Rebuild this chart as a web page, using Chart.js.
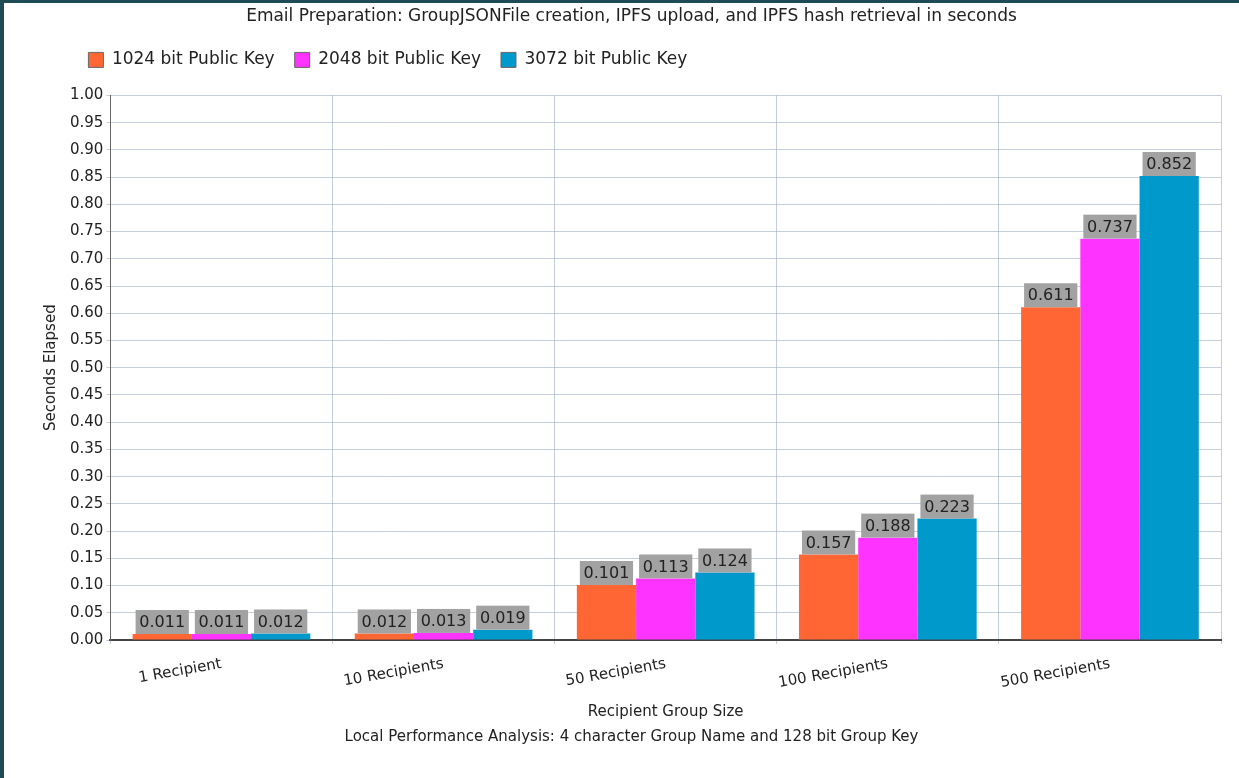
<!DOCTYPE html>
<html>
<head>
<meta charset="utf-8">
<script src="https://cdn.jsdelivr.net/npm/chart.js@4.4.1/dist/chart.umd.min.js"></script>
<style>
    html, body { margin: 0; padding: 0; background: #fff; }
    body { width: 1235px; height: 775px; border-left: 4px solid #1e4b55; border-top: 3px solid #1e4b55; }
    #wrap { width: 1235px; height: 775px; }
</style>
</head>
<body>
<div id="wrap"><canvas id="prepChart"></canvas></div>
<script>
const groupSizes = ['1 Recipient', '10 Recipients', '50 Recipients', '100 Recipients', '500 Recipients'];
const key1024 = [0.011, 0.012, 0.101, 0.157, 0.611];
const key2048 = [0.011, 0.013, 0.113, 0.188, 0.737];
const key3072 = [0.012, 0.019, 0.124, 0.223, 0.852];
const keyLabels = ['1024 bit Public Key', '2048 bit Public Key', '3072 bit Public Key'];

const fontFamily = '"DejaVu Sans", sans-serif';
const textColor = '#222';
const gridColor = 'rgba(150,165,190,0.55)';

// grey value boxes sitting on top of each bar
const valueBoxes = {
    id: 'valueBoxes',
    afterDatasetsDraw(chart) {
        const { ctx } = chart;
        ctx.save();
        ctx.font = '16px ' + fontFamily;
        ctx.textAlign = 'center';
        ctx.textBaseline = 'middle';
        chart.data.datasets.forEach((ds, i) => {
            chart.getDatasetMeta(i).data.forEach((bar, j) => {
                const w = bar.width - 6;
                ctx.fillStyle = '#a2a2a2';
                ctx.fillRect(bar.x - w / 2, bar.y - 24, w, 24);
                ctx.fillStyle = textColor;
                ctx.fillText(ds.data[j].toFixed(3), bar.x, bar.y - 11);
            });
        });
        ctx.restore();
    }
};

// legend sits left-aligned near the plot, with extra room below it
const legendShift = {
    id: 'legendShift',
    beforeLayout(chart) {
        const lg = chart.legend;
        if (lg && !lg._padded) {
            const fit = lg.fit;
            lg.fit = function () { fit.call(this); this.height += 17; };
            lg._padded = true;
        }
    },
    afterLayout(chart) {
        const lg = chart.legend;
        const dx = chart.chartArea.left - 42 - lg.left;
        lg.left += dx;
        lg.right += dx;
    }
};

const ctx = document.getElementById('prepChart');
new Chart(ctx, {
    type: 'bar',
    data: {
        labels: groupSizes,
        datasets: [
            { label: keyLabels[0], data: key1024, backgroundColor: '#ff6633' },
            { label: keyLabels[1], data: key2048, backgroundColor: '#ff33ff' },
            { label: keyLabels[2], data: key3072, backgroundColor: '#0099cc' },
        ]
    },
    options: {
        responsive: true,
        maintainAspectRatio: false,
        animation: false,
        datasets: { bar: { barPercentage: 1, categoryPercentage: 0.8 } },
        layout: { padding: { left: 38, right: 18, top: 2, bottom: 32 } },
        plugins: {
            title: {
                display: true,
                text: 'Email Preparation: GroupJSONFile creation, IPFS upload, and IPFS hash retrieval in seconds',
                color: textColor,
                font: { family: fontFamily, size: 17, weight: 'normal' },
                padding: { top: 1, bottom: 5 }
            },
            subtitle: {
                display: true,
                position: 'bottom',
                text: 'Local Performance Analysis: 4 character Group Name and 128 bit Group Key',
                color: textColor,
                font: { family: fontFamily, size: 15 },
                padding: { top: 7, bottom: 0 }
            },
            legend: {
                align: 'start',
                labels: {
                    color: textColor,
                    boxWidth: 15,
                    boxHeight: 15,
                    padding: 20,
                    font: { family: fontFamily, size: 17 },
                    generateLabels: chart => Chart.defaults.plugins.legend.labels.generateLabels(chart)
                        .map(item => ({ ...item, lineWidth: 1, strokeStyle: '#666' }))
                }
            },
            tooltip: { enabled: false }
        },
        scales: {
            x: {
                grid: { color: gridColor, tickLength: 4 },
                border: { color: '#444', width: 2 },
                ticks: {
                    color: textColor,
                    maxRotation: 10,
                    minRotation: 10,
                    padding: 11,
                    font: { family: fontFamily, size: 15 }
                },
                title: {
                    display: true,
                    text: 'Recipient Group Size',
                    color: textColor,
                    font: { family: fontFamily, size: 15 },
                    padding: { top: 0, bottom: 0 }
                }
            },
            y: {
                min: 0,
                max: 1,
                grid: { color: gridColor, tickLength: 4 },
                border: { color: '#666' },
                ticks: {
                    stepSize: 0.05,
                    color: textColor,
                    padding: 3,
                    font: { family: fontFamily, size: 15 },
                    callback: v => v.toFixed(2)
                },
                title: {
                    display: true,
                    text: 'Seconds Elapsed',
                    color: textColor,
                    font: { family: fontFamily, size: 15 },
                    padding: { top: 0, bottom: 7 }
                }
            }
        }
    },
    plugins: [valueBoxes, legendShift]
});
</script>
</body>
</html>
